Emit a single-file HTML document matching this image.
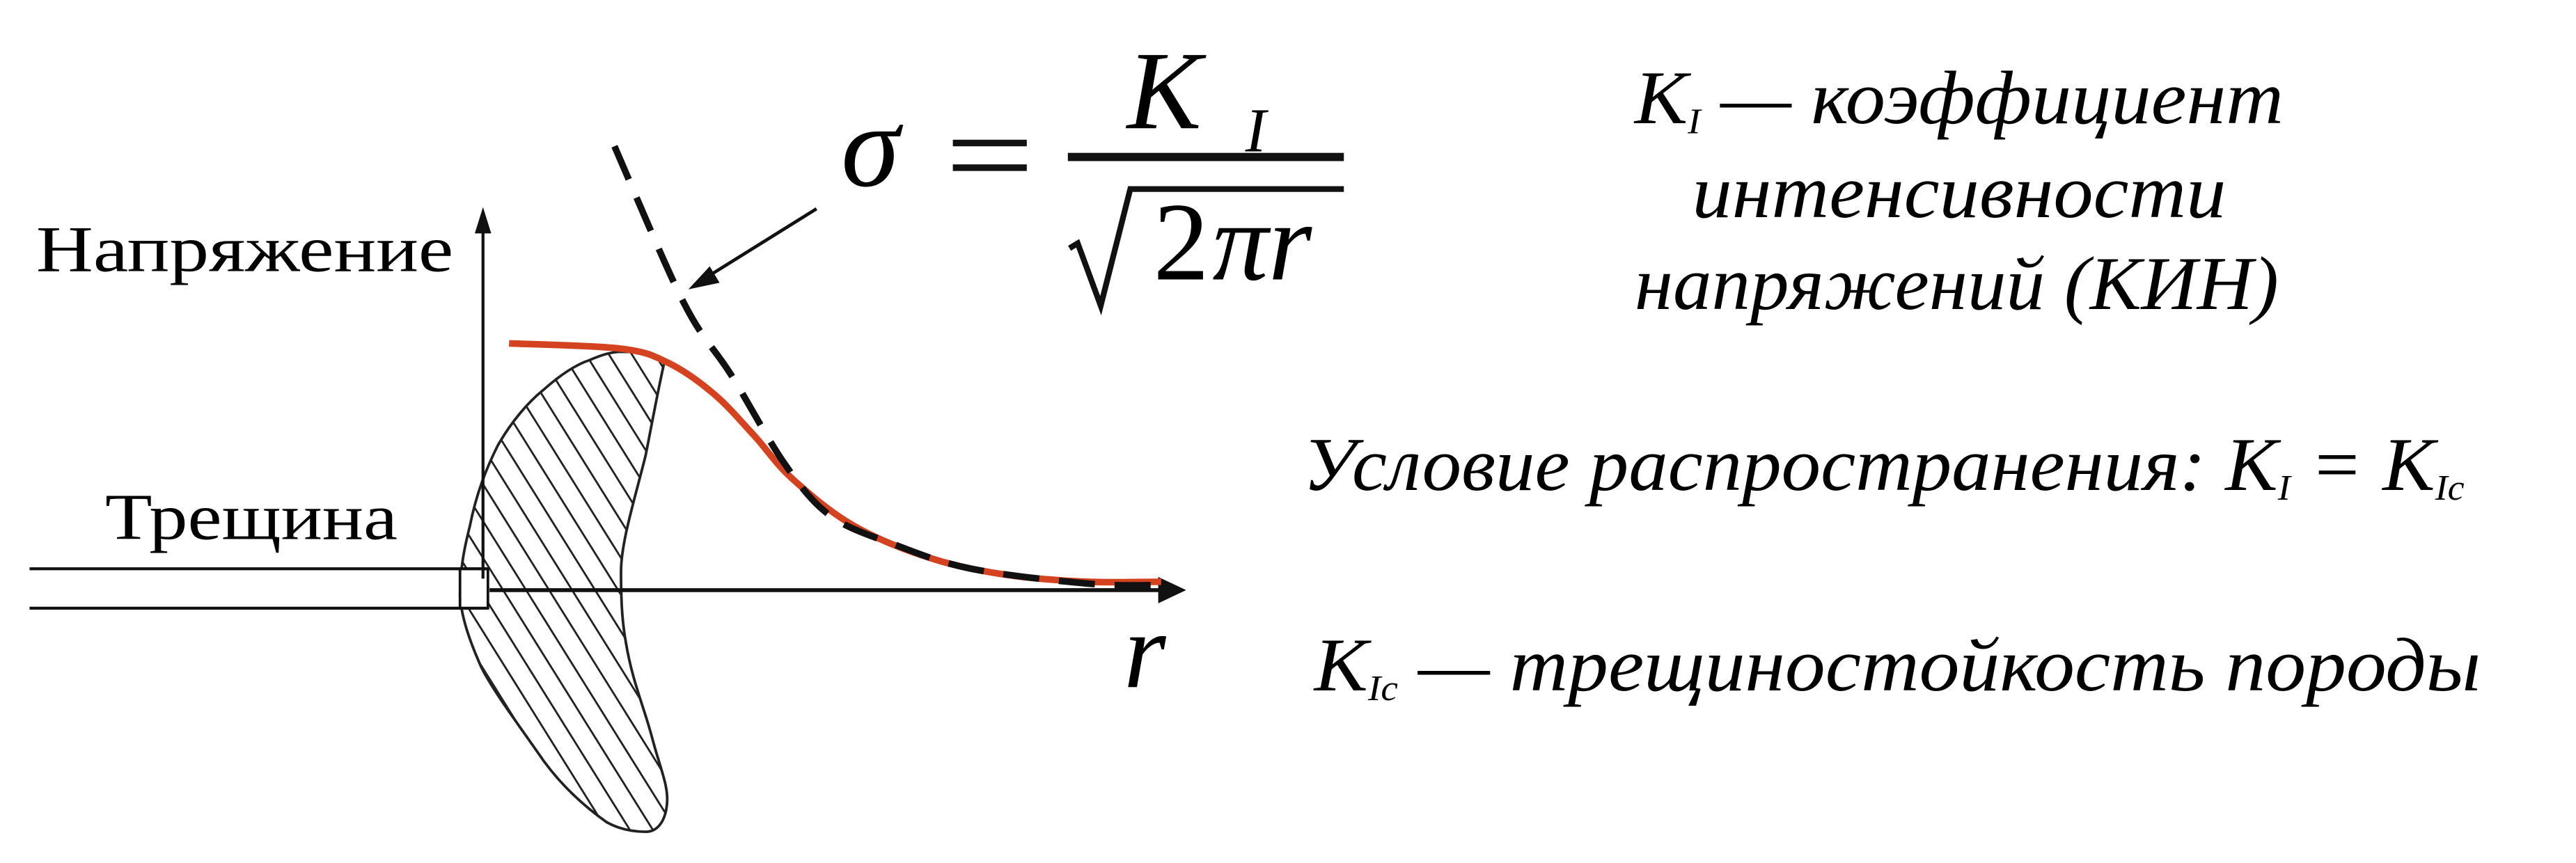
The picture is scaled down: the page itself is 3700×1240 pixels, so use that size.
<!DOCTYPE html>
<html><head><meta charset="utf-8"><style>
html,body{margin:0;padding:0;background:#fff;overflow:hidden;width:3700px;height:1240px;}
svg{display:block;}
.it{font-family:"Liberation Serif","DejaVu Serif",serif;font-style:italic;}
.rm{font-family:"Liberation Serif","DejaVu Serif",serif;}
</style></head><body>
<svg id="fig" width="3700" height="1240" viewBox="0 0 1568 525" preserveAspectRatio="none" xmlns="http://www.w3.org/2000/svg" overflow="hidden">
<defs>
<clipPath id="blobClip"><path d="M378,214 C395,214 406,216 404,222 C400,240 396,262 393,277 C386,305 378,330 378,348 C378,368 379,380 381,391 C385,415 392,430 397,449 C402,468 407,478 406,489 C405,500 400,506 393,506 C384,506 376,504 369,500 C355,490 342,478 331,463 C315,440 300,420 293,406 C285,388 281,375 280,363 C280,345 283,332 286,320 C290,300 296,285 303,271 C311,257 321,245 331,237 C340,229 350,222 359,219 C366,216 372,214 378,214 Z"/></clipPath>
</defs>
<rect width="1568" height="525" fill="#fff"/>

<g>
<g id="hatch" clip-path="url(#blobClip)" stroke="#222" stroke-width="1.2"></g>
<path d="M378,214 C395,214 406,216 404,222 C400,240 396,262 393,277 C386,305 378,330 378,348 C378,368 379,380 381,391 C385,415 392,430 397,449 C402,468 407,478 406,489 C405,500 400,506 393,506 C384,506 376,504 369,500 C355,490 342,478 331,463 C315,440 300,420 293,406 C285,388 281,375 280,363 C280,345 283,332 286,320 C290,300 296,285 303,271 C311,257 321,245 331,237 C340,229 350,222 359,219 C366,216 372,214 378,214 Z" fill="none" stroke="#222" stroke-width="1.6"/>
</g>

<g>
<rect x="280" y="346" width="17" height="24" fill="#fff" stroke="#111" stroke-width="1.6"/>
<line x1="18" y1="346" x2="297" y2="346" stroke="#111" stroke-width="1.8"/>
<line x1="18" y1="370" x2="297" y2="370" stroke="#111" stroke-width="1.8"/>
</g>

<g>
<line x1="294" y1="136" x2="294" y2="352" stroke="#111" stroke-width="1.8"/>
<polygon points="294,126 289,142 299,142" fill="#111"/>
</g>
<g>
<line x1="298" y1="359" x2="712" y2="359" stroke="#111" stroke-width="2.4"/>
<polygon points="722,359 705,351 705,367" fill="#111"/>
</g>

<g id="series"></g>

<g>
<line x1="497" y1="127" x2="428" y2="170" stroke="#111" stroke-width="2"/>
<polygon points="419,176 432,162 438,172" fill="#111"/>
</g>

<text class="rm" font-family="Liberation Serif, serif" x="22" y="165" font-size="40" textLength="254" lengthAdjust="spacingAndGlyphs">Напряжение</text>
<text class="rm" font-family="Liberation Serif, serif" x="64" y="328" font-size="40" textLength="178" lengthAdjust="spacingAndGlyphs">Трещина</text>
<text class="it" font-family="Liberation Serif, serif" font-style="italic" x="684" y="418" font-size="66">r</text>

<g font-family="Liberation Serif, serif">
<text class="it" font-style="italic" x="512" y="113" font-size="72">σ</text>
<rect x="580" y="85" width="45" height="4" fill="#111"/>
<rect x="580" y="100" width="45" height="4" fill="#111"/>
<rect x="650" y="93" width="168" height="5" fill="#111"/>
<text class="it" font-style="italic" x="686" y="78" font-size="68">K</text>
<text class="it" font-style="italic" x="758" y="92" font-size="38">I</text>
<path d="M651,151 L656,148 L670,186 L688,115 L818,115" fill="none" stroke="#111" stroke-width="3.5"/>
<text class="rm" x="702" y="170" font-size="68">2</text>
<text class="it" font-style="italic" x="738" y="170" font-size="68">πr</text>
</g>

<g font-family="Liberation Serif, serif" font-style="italic">
<text class="it" x="995" y="75" font-size="46" textLength="395" lengthAdjust="spacingAndGlyphs"><tspan>K</tspan><tspan font-size="22" dy="6">I</tspan><tspan dy="-6"> — коэффициент</tspan></text>
<text class="it" x="1030" y="132" font-size="46" textLength="325" lengthAdjust="spacingAndGlyphs">интенсивности</text>
<text class="it" x="995" y="188" font-size="46" textLength="392" lengthAdjust="spacingAndGlyphs">напряжений (КИН)</text>
<text class="it" x="793" y="298" font-size="46" textLength="707" lengthAdjust="spacingAndGlyphs"><tspan>Условие распространения: K</tspan><tspan font-size="22" dy="6">I</tspan><tspan dy="-6"> = K</tspan><tspan font-size="22" dy="6">Ic</tspan></text>
<text class="it" x="800" y="420" font-size="46" textLength="710" lengthAdjust="spacingAndGlyphs"><tspan>K</tspan><tspan font-size="22" dy="6">Ic</tspan><tspan dy="-6"> — трещиностойкость породы</tspan></text>
</g>
</svg>
<script>
const realR = [0.035,0.195,0.264,0.329,0.386,0.440,0.529,0.642,0.753,0.864,0.969];
const realStress = [0.654,0.640,0.601,0.518,0.408,0.294,0.167,0.079,0.035,0.018,0.018];
const asymR = [0.186,0.285,0.353,0.431,0.496,0.586,0.696,0.864,0.965];
const asymStress = [1.180,0.763,0.570,0.329,0.193,0.118,0.053,0.013,0.009];

const NS='http://www.w3.org/2000/svg';
function xS(r){return 295 + r*425;}
function yS(s){return 358 - s*228;}
function smooth(rs, ss){
  const p = rs.map((r,i)=>[xS(r), yS(ss[i])]);
  let d = 'M'+p[0][0]+','+p[0][1];
  for(let i=0;i<p.length-1;i++){
    const p0=p[Math.max(0,i-1)], p1=p[i], p2=p[i+1], p3=p[Math.min(p.length-1,i+2)];
    const c1=[p1[0]+(p2[0]-p0[0])/6, p1[1]+(p2[1]-p0[1])/6];
    const c2=[p2[0]-(p3[0]-p1[0])/6, p2[1]-(p3[1]-p1[1])/6];
    d+=' C'+c1[0]+','+c1[1]+' '+c2[0]+','+c2[1]+' '+p2[0]+','+p2[1];
  }
  return d;
}
const g = document.getElementById('series');
const red = document.createElementNS(NS,'path');
red.setAttribute('d', smooth(realR, realStress));
red.setAttribute('fill','none');
red.setAttribute('stroke','#d4421f');
red.setAttribute('stroke-width','4');


g.appendChild(red);
const dash = document.createElementNS(NS,'path');
dash.setAttribute('d', smooth(asymR, asymStress));
dash.setAttribute('fill','none');
dash.setAttribute('stroke','#111');
dash.setAttribute('stroke-width','4');
dash.setAttribute('stroke-dasharray','22 12');


g.appendChild(dash);

const h = document.getElementById('hatch');
for(let k=-200;k<200;k+=14){
  const l=document.createElementNS(NS,'line');
  l.setAttribute('x1', 270+k); l.setAttribute('y1', 205);
  l.setAttribute('x2', 270+k+190); l.setAttribute('y2', 205+190*1.6);
  
  
  h.appendChild(l);
}
</script>
</body></html>
